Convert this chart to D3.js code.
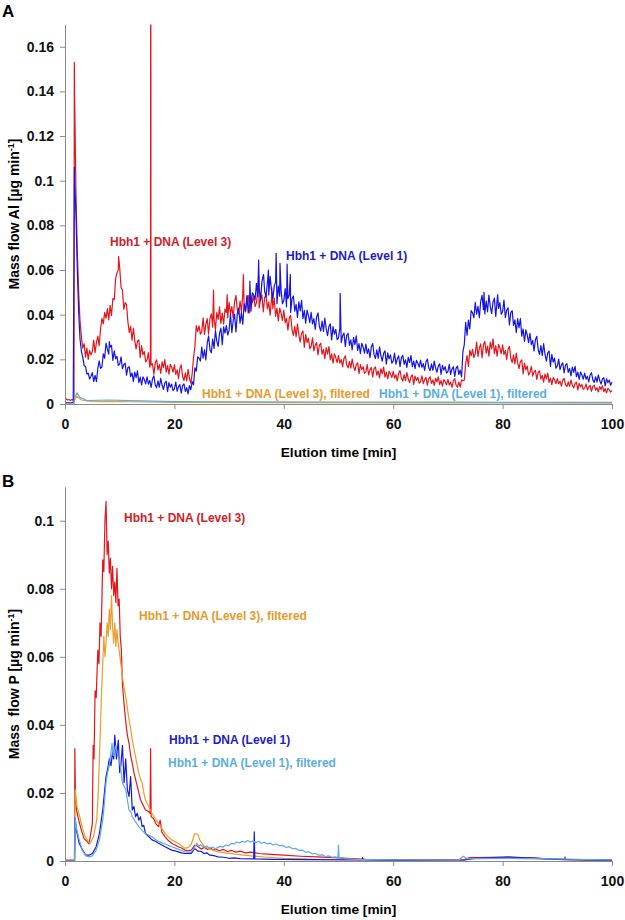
<!DOCTYPE html>
<html><head><meta charset="utf-8">
<script src="https://cdn.jsdelivr.net/npm/d3@7"></script>
<style>body{margin:0;background:#fff} svg{display:block;font-family:"Liberation Sans",Arial,sans-serif}</style>
</head><body><svg id="c" width="625" height="920"></svg>
<script>
// ---------- DATA ----------
const xTicks = [0, 20, 40, 60, 80, 100];
const yTicksA = [0, 0.02, 0.04, 0.06, 0.08, 0.1, 0.12, 0.14, 0.16];
const yTicksB = [0, 0.02, 0.04, 0.06, 0.08, 0.1];

// Panel A sampling times: every 0.25 min, 0..100 (one row below = 5 min)
const timeGridA = d3.range(0, 100.0001, 0.25);

// Panel A, Hbh1 + DNA (Level 3) – Al mass flow
const redA = [
  0.002,0.0022,0.0018,0.002,0.0015,0.002,0.0018,0.14,0.095,0.068,0.05,0.037,0.03,0.025,0.027,0.021,0.025,0.02,0.024,0.022,
  0.0235,0.0286,0.023,0.0276,0.0304,0.0261,0.0338,0.0383,0.0359,0.0409,0.0384,0.0427,0.0377,0.0442,0.0396,0.0472,0.0467,0.0561,0.0586,0.0602,
  0.061,0.0522,0.0509,0.0424,0.0454,0.0445,0.0368,0.032,0.0348,0.0286,0.0339,0.0284,0.0247,0.0282,0.0287,0.0208,0.0261,0.0221,0.0235,0.0188,
  0.0198,0.023,0.0165,0.0175,0.018,0.0133,0.0185,0.0198,0.0153,0.0176,0.0137,0.0189,0.0163,0.0199,0.0143,0.0172,0.0134,0.0178,0.0165,0.0143,
  0.0175,0.0133,0.0153,0.0113,0.016,0.0175,0.0123,0.0105,0.014,0.0103,0.0155,0.0115,0.0093,0.0135,0.0207,0.0258,0.0351,0.0324,0.035,0.0313,
  0.0323,0.0386,0.0312,0.0358,0.0382,0.0313,0.0382,0.0404,0.0344,0.0383,0.0333,0.041,0.0379,0.0435,0.0361,0.0407,0.0358,0.0425,0.041,0.0386,
  0.0455,0.0402,0.0436,0.0386,0.0458,0.0486,0.0421,0.0403,0.0461,0.0415,0.049,0.0441,0.0412,0.0467,0.0487,0.0409,0.0485,0.0453,0.0483,0.0437,
  0.0453,0.051,0.043,0.047,0.0488,0.0413,0.0476,0.0492,0.0426,0.0456,0.0398,0.0467,0.0427,0.0474,0.0392,0.0429,0.0372,0.043,0.0407,0.0374,
  0.042,0.0364,0.0384,0.0331,0.0384,0.0397,0.0333,0.0307,0.0348,0.0301,0.0359,0.0309,0.0277,0.0317,0.0327,0.0253,0.0311,0.0276,0.0295,0.0248,
  0.0258,0.0296,0.0238,0.0264,0.0275,0.022,0.0263,0.0272,0.0223,0.0245,0.0203,0.0252,0.0223,0.0257,0.0198,0.0224,0.0183,0.0225,0.0208,0.0185,
  0.0217,0.0183,0.0199,0.0166,0.0204,0.0216,0.0176,0.0162,0.0191,0.0161,0.0201,0.0169,0.0149,0.0176,0.0184,0.0136,0.0176,0.0154,0.0167,0.0137,
  0.0143,0.0176,0.013,0.0153,0.0164,0.0121,0.0158,0.0166,0.0129,0.0148,0.0117,0.0158,0.0136,0.0165,0.012,0.0143,0.0112,0.0146,0.0135,0.0118,
  0.0146,0.0116,0.0131,0.0103,0.0138,0.015,0.0115,0.0103,0.0131,0.0105,0.0141,0.0113,0.0096,0.0122,0.013,0.0088,0.0125,0.0106,0.0119,0.0093,
  0.01,0.0126,0.0091,0.0109,0.0119,0.0084,0.0114,0.0122,0.0092,0.0108,0.0083,0.0115,0.0099,0.0122,0.0087,0.0105,0.008,0.0109,0.01,0.0086,
  0.011,0.0085,0.0098,0.0074,0.0104,0.0114,0.0084,0.0075,0.0098,0.0076,0.0108,0.0104,0.0107,0.0182,0.0217,0.0168,0.0241,0.0216,0.0245,0.0208,
  0.0225,0.0277,0.0213,0.025,0.0269,0.0207,0.0265,0.0281,0.0228,0.0259,0.0214,0.0277,0.0247,0.0292,0.0225,0.026,0.0214,0.0267,0.0251,0.0225,
  0.0265,0.0221,0.024,0.0199,0.0245,0.0258,0.0205,0.0185,0.022,0.018,0.0228,0.0185,0.0158,0.019,0.0198,0.0135,0.0183,0.0153,0.017,0.013,
  0.0141,0.0169,0.0125,0.0144,0.0151,0.011,0.0142,0.0148,0.0112,0.0128,0.0098,0.0134,0.0113,0.0138,0.0097,0.0116,0.0087,0.0118,0.0108,0.0091,
  0.0114,0.009,0.0102,0.008,0.0107,0.0115,0.0087,0.0078,0.0099,0.0079,0.0107,0.0085,0.0072,0.0092,0.0098,0.0063,0.0092,0.0077,0.0087,0.0066,
  0.0071,0.009,0.0063,0.0076,0.0084,0.0057,0.0079,0.0084,0.0062,0.0073,0.0054,0.0078,0.0065,0.0082,0.0055,0.0069,0.005,0.007,0.0063,0.0053,
  0.006
];
// sharp features of the Level 3 trace [time, value]
const redSpikesA = [[1.65,0.002],[1.7,0.153],[9.8,0.066],[15.62,0.019],[15.66,0.17],[15.7,0.17],
  [15.72,0.018],[27.15,0.051],[29.65,0.049],[32.6,0.058],[35.4,0.058],[37.8,0.052]];

// Panel A, Hbh1 + DNA (Level 1)
const blueA = [
  0.0005,0.0005,0.0005,0.0005,0.0005,0.0006,0.0008,0.1,0.085,0.06,0.041,0.029,0.0235,0.021,0.0172,0.0168,0.0135,0.0138,0.0112,0.0124,
  0.014,0.01,0.0128,0.01,0.016,0.0193,0.016,0.0165,0.0225,0.0205,0.0273,0.0245,0.0223,0.0255,0.0263,0.0195,0.0238,0.0203,0.0213,0.0173,
  0.0179,0.0211,0.0158,0.0176,0.0183,0.0129,0.0163,0.0167,0.0122,0.0139,0.0101,0.0143,0.0118,0.0148,0.0096,0.012,0.0085,0.0122,0.0109,0.009,
  0.0122,0.0089,0.0105,0.0074,0.0113,0.0126,0.0086,0.0073,0.0104,0.0075,0.0115,0.0084,0.0065,0.0094,0.0102,0.0055,0.0096,0.0075,0.0089,0.006,
  0.0068,0.0098,0.0057,0.0078,0.0087,0.0049,0.0082,0.009,0.0056,0.0073,0.0045,0.0082,0.0064,0.01,0.0086,0.0162,0.0147,0.0211,0.0206,0.0192,
  0.0255,0.0205,0.0243,0.0197,0.0273,0.0305,0.0244,0.0229,0.0291,0.0249,0.0329,0.0282,0.0258,0.0316,0.034,0.0266,0.0346,0.0317,0.0351,0.0309,
  0.033,0.0403,0.032,0.0373,0.0402,0.0323,0.0404,0.0429,0.0362,0.0409,0.0357,0.0448,0.0416,0.0486,0.0408,0.0466,0.0416,0.0498,0.0488,0.0466,
  0.054,0.0481,0.0522,0.0464,0.0547,0.0577,0.0504,0.048,0.0544,0.0488,0.0572,0.051,0.0471,0.0528,0.0546,0.0449,0.0528,0.0483,0.051,0.0449,
  0.0463,0.0517,0.0435,0.0472,0.0488,0.041,0.0471,0.0484,0.0416,0.0446,0.0388,0.0457,0.0417,0.0464,0.0382,0.0419,0.0362,0.042,0.0397,0.0364,
  0.041,0.0359,0.0382,0.0334,0.039,0.0408,0.0348,0.0326,0.0371,0.0325,0.0385,0.0337,0.0306,0.0348,0.0359,0.0287,0.0347,0.0313,0.0334,0.0288,
  0.0296,0.034,0.0275,0.0306,0.0318,0.0257,0.0307,0.0317,0.0263,0.0287,0.0242,0.0298,0.0266,0.0305,0.024,0.027,0.0225,0.0272,0.0255,0.0228,
  0.0268,0.0226,0.0247,0.0207,0.0255,0.0271,0.0221,0.0204,0.0242,0.0205,0.0256,0.0216,0.0192,0.0227,0.0238,0.0178,0.0229,0.0202,0.022,0.0183,
  0.0192,0.0228,0.0178,0.0203,0.0216,0.0167,0.0208,0.0218,0.0178,0.0198,0.0164,0.0209,0.0185,0.0217,0.0167,0.0192,0.0158,0.0196,0.0183,0.0165,
  0.0197,0.0164,0.0181,0.015,0.0189,0.0201,0.0162,0.0149,0.018,0.0151,0.0192,0.0161,0.0142,0.0171,0.018,0.0132,0.0173,0.0152,0.0167,0.0138,
  0.0145,0.0178,0.0133,0.0156,0.0167,0.0124,0.0161,0.017,0.0133,0.0152,0.0121,0.0236,0.0266,0.0366,0.0308,0.0376,0.0336,0.0418,0.0408,0.0386,
  0.0455,0.0402,0.0437,0.0387,0.046,0.0487,0.0422,0.0403,0.0461,0.0413,0.0488,0.0436,0.0405,0.0457,0.0474,0.0392,0.0465,0.0428,0.0454,0.0402,
  0.0414,0.0465,0.0387,0.042,0.0431,0.0354,0.041,0.0418,0.0352,0.0377,0.032,0.0382,0.0342,0.0383,0.0304,0.0336,0.028,0.0332,0.0309,0.0275,
  0.0316,0.0266,0.0285,0.0238,0.0288,0.0303,0.0245,0.0222,0.0262,0.0217,0.027,0.0223,0.0192,0.0229,0.0237,0.0168,0.0222,0.0188,0.0205,0.016,
  0.017,0.0201,0.0154,0.0175,0.0184,0.0139,0.0174,0.0181,0.0142,0.0159,0.0126,0.0165,0.0142,0.0169,0.0122,0.0143,0.011,0.0143,0.013,0.0111,
  0.0138,0.0111,0.0124,0.0099,0.013,0.014,0.0108,0.0097,0.0122,0.0098,0.013,0.0105,0.0089,0.0112,0.0118,0.0081,0.0113,0.0096,0.0107,0.0084,
  0.0097
];
const blueSpikesA = [[1.72,0.106],[8.1,0.028],[33.8,0.055],[35.4,0.0645],[36.3,0.058],[37.2,0.06],
  [38.6,0.0675],[39.3,0.063],[40.6,0.0627],[41.2,0.058],[50.3,0.0496],[76.6,0.05],[79.1,0.049]];

// Panel A, filtered samples [time, value]
const orangeA = [[0,0],[1.6,0],[1.8,0.002],[2.2,0.0035],[3,0.0018],[5,0.001],[8,0.0012],
  [12,0.001],[20,0.0007],[40,0.0006],[60,0.0005],[80,0.0005],[100,0.0004]];
const lightBlueA = [[0,0],[1.6,0],[1.8,0.003],[2.2,0.005],[2.7,0.003],[4,0.0015],[8,0.0018],
  [12,0.0015],[20,0.0011],[30,0.001],[50,0.0009],[70,0.0008],[100,0.0007]];

// Panel B – P mass flow [time, value]
const redB = [[0,0.0003],[1.5,0.0003],[1.75,0.0005],[1.8,0.033],[1.9,0.02],[2.1,0.015],[2.5,0.012],
  [3.0,0.009],[3.5,0.0065],[4.0,0.0058],[4.4,0.005],[4.8,0.009],[5.0,0.011],[5.15,0.034],[5.3,0.03],
  [5.5,0.05],[5.7,0.048],[6.0,0.062],[6.2,0.058],[6.4,0.07],[6.6,0.066],[6.9,0.0885],[7.1,0.085],
  [7.3,0.1],[7.5,0.1057],[7.7,0.09],[7.9,0.094],[8.1,0.0846],[8.3,0.089],[8.5,0.08],[8.7,0.0866],
  [8.9,0.078],[9.1,0.082],[9.3,0.076],[9.5,0.086],[9.7,0.075],[9.9,0.077],[10.1,0.066],[10.3,0.062],
  [10.5,0.052],[10.8,0.046],[11.1,0.041],[11.4,0.037],[11.7,0.0346],[12.0,0.031],[12.3,0.0287],
  [12.6,0.026],[12.9,0.024],[13.2,0.022],[13.5,0.02],[13.8,0.018],[14.1,0.017],[14.4,0.016],
  [14.7,0.015],[15.0,0.0148],[15.3,0.0145],[15.55,0.014],[15.65,0.033],[15.75,0.013],[16.2,0.0125],
  [16.6,0.011],[17.1,0.0101],[17.4,0.012],[17.7,0.0085],[18.3,0.0071],[18.9,0.006],[19.5,0.0052],
  [20.1,0.0047],[20.7,0.0042],[21.3,0.0038],[21.9,0.0032],[22.5,0.003],[23.1,0.0032],[23.7,0.0046],
  [24.2,0.0044],[24.9,0.0035],[25.5,0.004],[26.1,0.0034],[26.6,0.0039],[27.1,0.0032],[27.5,0.0036],
  [28.2,0.003],[29,0.0034],[29.7,0.0028],[30.5,0.0031],[31.2,0.0026],[32,0.0029],[33,0.0024],
  [33.9,0.0026],[35.5,0.0022],[37,0.002],[40,0.0017],[43.1,0.0014],[46.1,0.0012],
  [49.2,0.001],[52.3,0.0007],[55,0.0005],[60,0.0004],[65,0.0004],[70,0.0004],[73,0.0004],[74,0.001],
  [78,0.0011],[82,0.001],[86,0.0009],[88,0.0006],[91.3,0.0005],[91.4,0.0012],[91.5,0.0005],
  [95,0.0003],[100,0.0003]];
const orangeB = [[0,0.0003],[1.7,0.0003],[1.85,0.021],[2.2,0.016],[2.7,0.013],[3.2,0.0095],
  [3.7,0.0071],[4.2,0.0058],[4.6,0.0052],[5.2,0.0071],[5.8,0.012],[6.1,0.021],[6.4,0.0356],
  [6.7,0.0503],[6.9,0.058],[7.1,0.066],[7.3,0.06],[7.5,0.064],[7.7,0.07],[7.9,0.066],[8.1,0.074],
  [8.3,0.068],[8.5,0.078],[8.7,0.069],[8.9,0.064],[9.1,0.07],[9.3,0.063],[9.5,0.068],[9.7,0.064],
  [9.9,0.062],[10.2,0.058],[10.5,0.054],[10.8,0.051],[11.1,0.0483],[11.4,0.045],[11.7,0.0415],
  [12.0,0.039],[12.3,0.0356],[12.6,0.033],[12.9,0.0307],[13.2,0.028],[13.5,0.0258],[13.8,0.024],
  [14.1,0.023],[14.4,0.02],[14.7,0.018],[15.0,0.017],[15.3,0.016],[15.9,0.014],[16.5,0.0125],
  [17.1,0.011],[17.7,0.0095],[18.3,0.0081],[18.9,0.0071],[19.5,0.0062],[20.1,0.0057],[20.7,0.0052],
  [21.3,0.0045],[21.9,0.0037],[22.5,0.004],[23.1,0.005],[23.7,0.008],[24.3,0.0078],[24.7,0.006],
  [25.5,0.0042],[26.5,0.0035],[28,0.0027],[31,0.002],[34,0.0015],[37,0.0011],[40,0.0008],
  [46,0.0005],[55,0.0004],[73,0.0003],[75,0.0007],[80,0.0008],[88,0.0006],[92,0.0003],[100,0.0003]];
const blueB = [[0,0],[1.75,0],[1.85,0.0126],[2.1,0.009],[2.6,0.0052],[3.2,0.0032],[3.8,0.0017],
  [4.4,0.0017],[5.0,0.0022],[5.7,0.0042],[6.3,0.0081],[6.9,0.015],[7.2,0.02],[7.5,0.0248],
  [7.8,0.027],[8.1,0.03],[8.4,0.028],[8.7,0.032],[8.9,0.03],[9.1,0.037],[9.4,0.03],[9.75,0.0355],
  [10.0,0.026],[10.2,0.028],[10.5,0.034],[10.8,0.023],[11.1,0.03],[11.4,0.021],[11.7,0.019],
  [12.0,0.0248],[12.3,0.015],[12.6,0.016],[12.9,0.013],[13.2,0.014],[13.5,0.012],[13.8,0.013],
  [14.1,0.0101],[14.4,0.0105],[14.7,0.0081],[15.3,0.0072],[15.9,0.0062],[16.5,0.0058],[17.1,0.0052],
  [17.7,0.0047],[18.3,0.0042],[18.9,0.0037],[19.5,0.0032],[20.1,0.003],[20.7,0.0027],[21.3,0.0024],
  [21.9,0.0022],[23.1,0.0022],[23.7,0.0037],[24.2,0.003],[24.9,0.0028],[25.4,0.0022],[25.9,0.0024],
  [26.5,0.0017],[27.2,0.0016],[27.9,0.0012],[29,0.0011],[30,0.0008],[30.9,0.0009],[32,0.0007],
  [34.5,0.0006],[34.6,0.0086],[34.7,0.0006],[38,0.0005],[45,0.0004],[54.3,0.0003],
  [54.4,0.001],[54.5,0.0003],[60,0.0002],[73,0.0003],[75,0.0008],[81,0.0012],[86,0.0008],
  [90,0.0005],[100,0.0002]];
const lightBlueB = [[0,0],[1.75,0],[1.85,0.0126],[2.1,0.0095],[2.6,0.0062],[3.2,0.003],[3.8,0.0015],
  [4.4,0.0012],[5.0,0.0015],[5.7,0.0032],[6.3,0.0062],[6.9,0.012],[7.2,0.017],[7.5,0.023],
  [7.8,0.026],[8.1,0.028],[8.4,0.032],[8.6,0.0346],[8.8,0.031],[9.0,0.032],[9.3,0.034],[9.6,0.031],
  [9.9,0.03],[10.2,0.027],[10.5,0.023],[10.8,0.022],[11.1,0.021],[11.4,0.018],[11.7,0.015],
  [12.0,0.0145],[12.3,0.013],[12.9,0.0115],[13.5,0.0101],[14.1,0.009],[14.7,0.0081],[15.3,0.0076],
  [15.9,0.0071],[16.5,0.0064],[17.1,0.0057],[18.3,0.005],[19.5,0.0042],[20.7,0.0035],[21.9,0.0027],
  [22.9,0.0025],[23.5,0.0035],[24.1,0.0052],[24.5,0.0044],[24.8,0.0048],[25.3,0.0041],[25.9,0.0044],
  [26.4,0.0038],[27,0.0041],[27.5,0.0036],[27.9,0.004],[28.4,0.0043],[28.9,0.0041],[29.4,0.0047],
  [29.9,0.0045],[30.4,0.0052],[30.9,0.005],[31.4,0.0056],[31.9,0.0053],[32.4,0.0058],[32.9,0.0055],
  [33.4,0.006],[33.9,0.0056],[34.4,0.0059],[34.9,0.0054],[35.4,0.0058],[35.9,0.0052],[36.4,0.0055],
  [37,0.005],[37.5,0.0053],[38,0.0047],[38.6,0.005],[39.2,0.0045],[39.8,0.0046],[40.4,0.004],
  [41,0.0042],[41.6,0.0036],[42.2,0.0037],[42.8,0.0031],[43.4,0.0032],[44,0.0026],[44.6,0.0027],
  [45.2,0.0021],[45.8,0.0022],[46.4,0.0017],[47,0.0018],[47.6,0.0013],[48.2,0.0015],[48.8,0.0011],
  [49.4,0.0012],[49.9,0.001],[50.0,0.0047],[50.1,0.001],[50.8,0.0009],[51.5,0.0006],[52.3,0.0006],
  [53,0.0004],[54.7,0.0004],[60,0.0003],[72,0.0003],[72.8,0.0014],[73.5,0.0007],[80,0.0008],
  [90,0.0006],[100,0.0003]];

const labelsA = ["Hbh1 + DNA (Level 3)", "Hbh1 + DNA (Level 1)", "Hbh1 + DNA (Level 3), filtered", "Hbh1 + DNA (Level 1), filtered"];
const labelsB = labelsA;

// ---------- DRAW ----------
const C = {red:"#e3161d", blue:"#1515e2", orange:"#eb9e2a", light:"#5aace6",
  redT:"#d42027", blueT:"#1c1cc8", orangeT:"#e99a2a", lightT:"#5aaee6"};
const svg = d3.select("#c");
const x = d3.scaleLinear().domain([0,100]).range([65,612]);

function withSpikes(grid, vals, spikes){
  return grid.map((t,i)=>[t, vals[i]]).concat(spikes).sort((a,b)=>a[0]-b[0]);
}

function panel(id, top, bottom, ymax, yTicks, series, labels, yTitleParts, yTitleCenter, letter, letterY){
  const y = d3.scaleLinear().domain([0,ymax]).range([bottom, top]);
  const g = svg.append("g");
  g.append("clipPath").attr("id","clip"+id).append("rect")
    .attr("x",65).attr("y",top).attr("width",548).attr("height",bottom-top+1);
  const line = d3.line().x(d=>x(d[0])).y(d=>y(d[1]));
  const lg = g.append("g").attr("clip-path","url(#clip"+id+")");
  series.forEach(s=>{
    lg.append("path").datum(s.data).attr("d",line).attr("fill","none")
      .attr("stroke",s.color).attr("stroke-width",1.2).attr("stroke-linejoin","round");
  });
  const fmt = d=> String(+d.toFixed(2));
  const ya = g.append("g").attr("transform","translate(65,0)")
    .call(d3.axisLeft(y).tickValues(yTicks).tickFormat(fmt).tickSize(5).tickSizeOuter(0).tickPadding(6));
  const xa = g.append("g").attr("transform",`translate(0,${bottom})`)
    .call(d3.axisBottom(x).tickValues(xTicks).tickSize(5).tickSizeOuter(0).tickPadding(10));
  [ya,xa].forEach(a=>{
    a.select(".domain").attr("stroke","#8a8a8a");
    a.selectAll(".tick line").attr("stroke","#8a8a8a");
    a.selectAll(".tick text").attr("font-size",14).attr("font-weight","bold").attr("fill","#111")
      .attr("font-family","'Liberation Sans',Arial,sans-serif");
  });
  g.append("text").attr("x",338.5).attr("y",bottom+53).attr("text-anchor","middle")
    .attr("font-size",13.7).attr("font-weight","bold").text("Elution time [min]");
  const yt = g.append("text").attr("transform",`translate(19,${yTitleCenter}) rotate(-90)`)
    .attr("text-anchor","middle").attr("font-size",14).attr("font-weight","bold").style("white-space","pre");
  yt.append("tspan").text(yTitleParts[0]);
  yt.append("tspan").attr("font-size",9).attr("dy",-5).text("-1");
  yt.append("tspan").attr("dy",5).text("]");
  g.append("text").attr("x",2).attr("y",letterY).attr("font-size",17).attr("font-weight","bold").text(letter);
  labels.forEach(l=>{
    g.append("text").attr("x",l.x).attr("y",l.y).attr("font-size",12).attr("font-weight","bold")
      .attr("fill",l.color).text(l.text);
  });
}

panel("A", 24.4, 404, 0.17, yTicksA, [
  {data: withSpikes(timeGridA, redA, redSpikesA), color: C.red},
  {data: withSpikes(timeGridA, blueA, blueSpikesA), color: C.blue},
  {data: orangeA, color: C.orange},
  {data: lightBlueA, color: C.light}
], [
  {text: labelsA[0], x:110, y:246, color:C.redT},
  {text: labelsA[1], x:286, y:259.5, color:C.blueT},
  {text: labelsA[2], x:202, y:397.5, color:C.orangeT},
  {text: labelsA[3], x:379, y:397.5, color:C.lightT}
], ["Mass flow Al [µg min"], 214, "A", 17);

panel("B", 486.7, 861, 0.11, yTicksB, [
  {data: redB, color: C.red},
  {data: orangeB, color: C.orange},
  {data: blueB, color: C.blue},
  {data: lightBlueB, color: C.light}
], [
  {text: labelsB[0], x:124, y:522, color:C.redT},
  {text: labelsB[2], x:139, y:619.5, color:C.orangeT},
  {text: labelsB[1], x:169, y:743.5, color:C.blueT},
  {text: labelsB[3], x:168, y:767, color:C.lightT}
], ["Mass  flow P [µg min"], 684, "B", 487);
</script></body></html>
